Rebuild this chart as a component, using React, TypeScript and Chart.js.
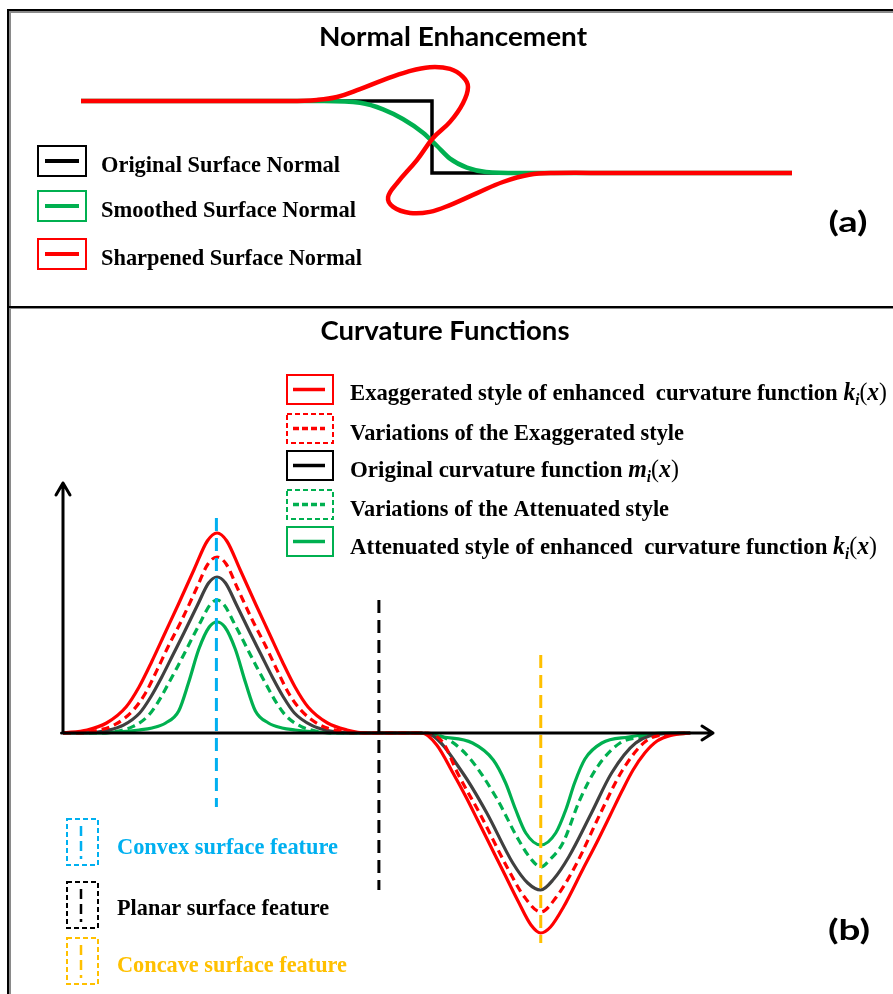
import React, { useEffect, useRef } from "react";
import { Chart, registerables } from "chart.js";

Chart.register(...registerables);

// ---------------- Panel (a): surface normal profiles ----------------
const titleA = "Normal Enhancement";
const legendA = ["Original Surface Normal", "Smoothed Surface Normal", "Sharpened Surface Normal"];

const originalNormalX = [-9.75, 0, 0, 10];
const originalNormalY = [1, 1, -1, -1];

const smoothedNormalX = [-9.75, -5, -3.0, -2.0, -1.36, -0.81, -0.25, 0.14, 0.5, 0.97, 1.5, 2.4, 10];
const smoothedNormalY = [1, 1, 1, 0.95, 0.77, 0.5, 0.12, -0.25, -0.6, -0.85, -0.97, -1, -1];

const sharpenedNormalX = [-9.75, -6, -4, -3.2, -2.64, -2.0, -1.36, -0.69, -0.06, 0.5, 0.86, 1.0, 0.86, 0.5, 0.03, -0.42, -0.97, -1.22, -1.08, -0.61, -0.06, 0.5, 1.25, 1.97, 2.7, 3.4, 5, 10];
const sharpenedNormalY = [1, 1, 1, 1.03, 1.11, 1.33, 1.58, 1.81, 1.94, 1.89, 1.67, 1.39, 0.94, 0.42, -0.03, -0.64, -1.28, -1.67, -1.94, -2.11, -2.08, -1.89, -1.56, -1.25, -1.05, -1.0, -1, -1];

// ---------------- Panel (b): curvature functions ----------------
const titleB = "Curvature Functions";
const legendB = [
  "Exaggerated style of enhanced  curvature function ",
  "Variations of the Exaggerated style",
  "Original curvature function ",
  "Variations of the Attenuated style",
  "Attenuated style of enhanced  curvature function ",
];
const legendBMath = ["k", "", "m", "", "k"];
const featureLabels = ["Convex surface feature", "Planar surface feature", "Concave surface feature"];

const exaggeratedX = [0, 3.7, 6.7, 9.7, 11.7, 13.7, 15.7, 17.7, 20.2, 22.2, 23.7, 25.2, 27.2, 29.7, 31.7, 33.7, 35.7, 37.7, 40.7, 43.7, 46.7, 55.2, 57.5, 60, 62, 63.7, 65.7, 67.7, 70, 72, 73.5, 75, 77, 80, 82, 84.2, 86, 87.7, 89.5, 91.4, 93.5, 96.5];
const exaggeratedY = [0, 1.5, 5, 13, 23, 36, 50, 64, 82, 96, 100, 96, 82, 64, 50, 36, 23, 13, 5, 1.5, 0, 0, -6, -20, -32, -43, -56, -69, -84, -96, -100, -97, -87, -68, -55.5, -41, -29, -18.5, -10, -4, -1.2, 0];

const exaggeratedVarX = [0, 1.9, 5.3, 8.1, 10.8, 12.7, 14.5, 16.3, 18.2, 20.5, 22.3, 23.7, 25.1, 26.9, 29.2, 31.1, 32.9, 34.7, 36.6, 39.3, 42.1, 45.5, 56, 58.5, 60.7, 64.4, 68.3, 71, 73.5, 75.9, 78.9, 82.7, 86, 89.7, 93.5, 96.5];
const exaggeratedVarY = [0, 0, 1.3, 4.4, 11.4, 20, 31.7, 44, 56, 72, 84.5, 88, 84.5, 72, 56, 44, 31.7, 20, 11.4, 4.4, 1.3, 0, 0, -5, -20, -42, -67, -82, -89.5, -82, -66, -40, -19, -4, -0.5, 0];

const originalX = [0, 3.6, 6.7, 9.3, 11.8, 13.5, 15.2, 16.9, 18.6, 20.7, 22.4, 23.7, 25, 26.7, 28.8, 30.5, 32.2, 33.9, 35.6, 38.2, 40.7, 43.8, 55, 56.7, 61.5, 65.2, 69.2, 71.5, 73.5, 75.5, 77.8, 81.3, 84.4, 88.1, 92.1, 96.5];
const originalY = [0, 0, 1.2, 3.9, 10, 18, 28, 39, 50, 64, 75, 78, 75, 64, 50, 39, 28, 18, 10, 3.9, 1.2, 0, 0, -1, -20, -40, -65, -75, -78.5, -73, -62, -40, -20, -5, -0.5, 0];

const attenuatedVarX = [0, 5.7, 8.5, 10.8, 13.1, 14.6, 16.1, 17.6, 19.1, 21.0, 22.6, 23.7, 24.8, 26.4, 28.3, 29.8, 31.3, 32.8, 34.3, 36.6, 38.9, 41.7, 54.5, 58.8, 62.4, 66.6, 70.1, 72, 73.5, 75, 76.9, 79.5, 82.2, 85.7, 89.6, 96.5];
const attenuatedVarY = [0, 0, 1, 3.3, 8.6, 15.3, 24, 33, 42.5, 54.5, 64, 66.5, 64, 54.5, 42.5, 33, 24, 15.3, 8.6, 3.3, 1, 0, 0, -2.5, -12, -32, -53.5, -63, -67, -63, -55, -33.5, -17, -5, -2, 0];

const attenuatedX = [0, 4.7, 8.7, 11.7, 13.7, 15.8, 17.8, 19.3, 20.9, 22.5, 23.7, 24.9, 26.5, 28.1, 29.6, 31.6, 33.7, 35.7, 38.7, 42.7, 54.5, 58.5, 63, 66.2, 68.1, 69.6, 71.2, 73.5, 75.8, 77.4, 78.7, 80.3, 82.9, 87, 92.5, 96.5];
const attenuatedY = [0, 0, 0.6, 1.5, 2.5, 5, 11, 25, 42, 53, 55.5, 53, 42, 25, 11, 5, 2.5, 1.5, 0.6, 0, 0, -2, -5, -13.5, -25, -38, -50, -56, -50, -38, -25, -13, -5, -2, 0, 0];

const convexGuideX = [23.6, 23.6];
const convexGuideY = [107.5, -37];
const planarGuideX = [48.6, 48.6];
const planarGuideY = [66.5, -78.5];
const concaveGuideX = [73.5, 73.5];
const concaveGuideY = [39, -105];

const axisXEnd = 100;
const axisYEnd = 125;

// ---------------- styles ----------------
const RED = "#FF0000";
const GREEN = "#00B050";
const BLUE = "#00B0F0";
const GOLD = "#FFC000";
const DARK = "#404040";
const SERIF = "'Liberation Serif', 'Times New Roman', serif";
const SANS = "Lato, 'Open Sans', sans-serif";

const pts = (xs: number[], ys: number[]) => xs.map((x, i) => ({ x, y: ys[i] }));

type Seg = { t: string; font: string; dy?: number };

function drawRich(ctx: CanvasRenderingContext2D, segs: Seg[], x: number, y: number, width: number | null, color: string, align: "left" | "center" = "left") {
  ctx.save();
  ctx.fillStyle = color;
  ctx.textBaseline = "alphabetic";
  ctx.textAlign = "left";
  let total = 0;
  const ws = segs.map((s) => {
    ctx.font = s.font;
    const w = ctx.measureText(s.t).width;
    total += w;
    return w;
  });
  const sc = width ? width / total : 1;
  const realW = total * sc;
  const left = align === "center" ? x - realW / 2 : x;
  ctx.translate(left, y);
  ctx.scale(sc, 1);
  let cx = 0;
  segs.forEach((s, i) => {
    ctx.font = s.font;
    ctx.fillText(s.t, cx, s.dy || 0);
    cx += ws[i];
  });
  ctx.restore();
}

function box(ctx: CanvasRenderingContext2D, x: number, y: number, w: number, h: number, color: string, dashed: boolean, lw = 2) {
  ctx.save();
  ctx.strokeStyle = color;
  ctx.lineWidth = lw;
  ctx.setLineDash(dashed ? [5, 3] : []);
  ctx.strokeRect(x, y, w, h);
  ctx.restore();
}

function seg(ctx: CanvasRenderingContext2D, x1: number, y1: number, x2: number, y2: number, color: string, lw: number, dash: number[] = []) {
  ctx.save();
  ctx.strokeStyle = color;
  ctx.lineWidth = lw;
  ctx.setLineDash(dash);
  ctx.beginPath();
  ctx.moveTo(x1, y1);
  ctx.lineTo(x2, y2);
  ctx.stroke();
  ctx.restore();
}

const decorA = {
  id: "decorA",
  afterDraw(chart: any) {
    const ctx: CanvasRenderingContext2D = chart.ctx;
    drawRich(ctx, [{ t: titleA, font: `bold 27px ${SANS}` }], 453, 46, 268, "#000", "center");
    const tops = [146, 191, 239];
    const bases = [172, 217, 265];
    const widths = [239, 255, 261];
    const cols = ["#000", GREEN, RED];
    legendA.forEach((lab, i) => {
      box(ctx, 38, tops[i], 48, 30, cols[i], false, 2);
      seg(ctx, 45, tops[i] + 15, 79, tops[i] + 15, cols[i], 4);
      drawRich(ctx, [{ t: lab, font: `bold 24px ${SERIF}` }], 101, bases[i], widths[i], "#000");
    });
    drawRich(ctx, [{ t: "(a)", font: `bold 29px ${SANS}` }], 848, 232, 39, "#000", "center");
  },
};

const OFF = 307;
const decorB = {
  id: "decorB",
  afterDatasetsDraw(chart: any) {
    const ctx: CanvasRenderingContext2D = chart.ctx;
    const sx = chart.scales.x;
    const sy = chart.scales.y;
    const x0 = sx.getPixelForValue(0);
    const y0 = sy.getPixelForValue(0);
    const xe = sx.getPixelForValue(axisXEnd);
    const ye = sy.getPixelForValue(axisYEnd);
    ctx.save();
    ctx.strokeStyle = "#000";
    ctx.lineWidth = 3;
    ctx.lineCap = "round";
    ctx.lineJoin = "round";
    ctx.beginPath();
    ctx.moveTo(x0 - 1.5, y0);
    ctx.lineTo(xe, y0);
    ctx.moveTo(xe - 11, y0 - 7);
    ctx.lineTo(xe, y0);
    ctx.lineTo(xe - 11, y0 + 7);
    ctx.moveTo(x0, y0);
    ctx.lineTo(x0, ye);
    ctx.moveTo(x0 - 7, ye + 12);
    ctx.lineTo(x0, ye);
    ctx.lineTo(x0 + 7, ye + 12);
    ctx.stroke();
    ctx.restore();
  },
  afterDraw(chart: any) {
    const ctx: CanvasRenderingContext2D = chart.ctx;
    drawRich(ctx, [{ t: titleB, font: `bold 27px ${SANS}` }], 445, 340 - OFF, 249, "#000", "center");
    const tops = [375, 414, 451, 490, 527];
    const bases = [400, 440, 477, 516, 554];
    const widths = [537, 334, 329, 319, 527];
    const cols = [RED, RED, "#000", GREEN, GREEN];
    const dashed = [false, true, false, true, false];
    legendB.forEach((lab, i) => {
      const t = tops[i] - OFF;
      box(ctx, 287, t, 46, 29, cols[i], dashed[i], 2);
      seg(ctx, 293, t + 14.5, 325, t + 14.5, cols[i], 3.5, dashed[i] ? [6, 3] : []);
      const segs: Seg[] = [{ t: lab, font: `bold 24px ${SERIF}` }];
      if (legendBMath[i]) {
        segs.push({ t: legendBMath[i], font: `italic bold 25px ${SERIF}` });
        segs.push({ t: "i", font: `italic bold 16px ${SERIF}`, dy: 5 });
        segs.push({ t: "(", font: `25px ${SERIF}` });
        segs.push({ t: "x", font: `italic bold 25px ${SERIF}` });
        segs.push({ t: ")", font: `25px ${SERIF}` });
      }
      drawRich(ctx, segs, 350, bases[i] - OFF, widths[i], "#000");
    });
    const ftops = [819, 882, 938];
    const fbases = [854, 915, 972];
    const fwidths = [221, 212, 230];
    const fcols = [BLUE, "#000", GOLD];
    featureLabels.forEach((lab, i) => {
      const t = ftops[i] - OFF;
      box(ctx, 67, t, 31, 46, fcols[i], true, 2);
      seg(ctx, 81, t + 7, 81, t + 40, fcols[i], 2.5, [10, 5]);
      drawRich(ctx, [{ t: lab, font: `bold 24px ${SERIF}` }], 117, fbases[i] - OFF, fwidths[i], fcols[i]);
    });
    drawRich(ctx, [{ t: "(b)", font: `bold 29px ${SANS}` }], 849, 940 - OFF, 42, "#000", "center");
  },
};

export default function App() {
  const refA = useRef<HTMLCanvasElement>(null);
  const refB = useRef<HTMLCanvasElement>(null);

  useEffect(() => {
    const common = {
      responsive: false,
      animation: false as const,
      events: [] as any[],
      plugins: { legend: { display: false }, tooltip: { enabled: false }, title: { display: false } },
      elements: { point: { radius: 0 } },
    };

    const chartA = new Chart(refA.current!, {
      type: "line",
      data: {
        datasets: [
          { data: pts(sharpenedNormalX, sharpenedNormalY), borderColor: RED, borderWidth: 4.5, tension: 0.4, fill: false, order: 0 },
          { data: pts(smoothedNormalX, smoothedNormalY), borderColor: GREEN, borderWidth: 4.5, cubicInterpolationMode: "monotone", fill: false, order: 1 },
          { data: pts(originalNormalX, originalNormalY), borderColor: "#000", borderWidth: 3.5, tension: 0, fill: false, order: 2, borderJoinStyle: "miter" },
        ] as any,
      },
      options: {
        ...common,
        layout: { padding: { left: 0, right: 29, top: 11, bottom: 26 } },
        scales: {
          x: { type: "linear", min: -12, max: 12, display: false },
          y: { type: "linear", min: -4, max: 3.5, display: false },
        },
      } as any,
      plugins: [decorA],
    });

    const curve = (xs: number[], ys: number[], color: string, dashed: boolean) => ({
      data: pts(xs, ys),
      borderColor: color,
      borderWidth: 3.2,
      borderDash: dashed ? [8, 5] : [],
      cubicInterpolationMode: "monotone",
      fill: false,
      order: 1,
    });
    const guide = (xs: number[], ys: number[], color: string) => ({
      data: pts(xs, ys),
      borderColor: color,
      borderWidth: 3,
      borderDash: [13, 7],
      tension: 0,
      fill: false,
      order: 0,
    });

    const chartB = new Chart(refB.current!, {
      type: "line",
      data: {
        datasets: [
          guide(convexGuideX, convexGuideY, BLUE),
          guide(planarGuideX, planarGuideY, "#000"),
          guide(concaveGuideX, concaveGuideY, GOLD),
          curve(exaggeratedX, exaggeratedY, RED, false),
          curve(exaggeratedVarX, exaggeratedVarY, RED, true),
          curve(originalX, originalY, DARK, false),
          curve(attenuatedVarX, attenuatedVarY, GREEN, true),
          curve(attenuatedX, attenuatedY, GREEN, false),
        ] as any,
      },
      options: {
        ...common,
        layout: { padding: { left: 63, right: 180, top: 0, bottom: 0 } },
        scales: {
          x: { type: "linear", min: 0, max: 100, display: false },
          y: { type: "linear", min: -130.5, max: 213, display: false },
        },
      } as any,
      plugins: [decorB],
    });

    return () => {
      chartA.destroy();
      chartB.destroy();
    };
  }, []);

  const line = (l: number, t: number, w: number, h: number, c: string) => (
    <div style={{ position: "absolute", left: l, top: t, width: w, height: h, background: c }} />
  );

  return (
    <div style={{ position: "absolute", left: 0, top: 0, width: 893, height: 994, background: "#fff", overflow: "hidden" }}>
      <canvas ref={refA} width={893} height={307} style={{ position: "absolute", left: 0, top: 0 }} />
      <canvas ref={refB} width={893} height={687} style={{ position: "absolute", left: 0, top: 307 }} />
      {line(7, 9, 886, 2, "#000")}
      {line(9, 11, 884, 1.5, "#8a8a8a")}
      {line(7, 9, 2, 985, "#000")}
      {line(9, 11, 1.5, 983, "#8a8a8a")}
      {line(7, 305.5, 886, 2.5, "#000")}
      {line(9, 308, 884, 1, "#8a8a8a")}
    </div>
  );
}
